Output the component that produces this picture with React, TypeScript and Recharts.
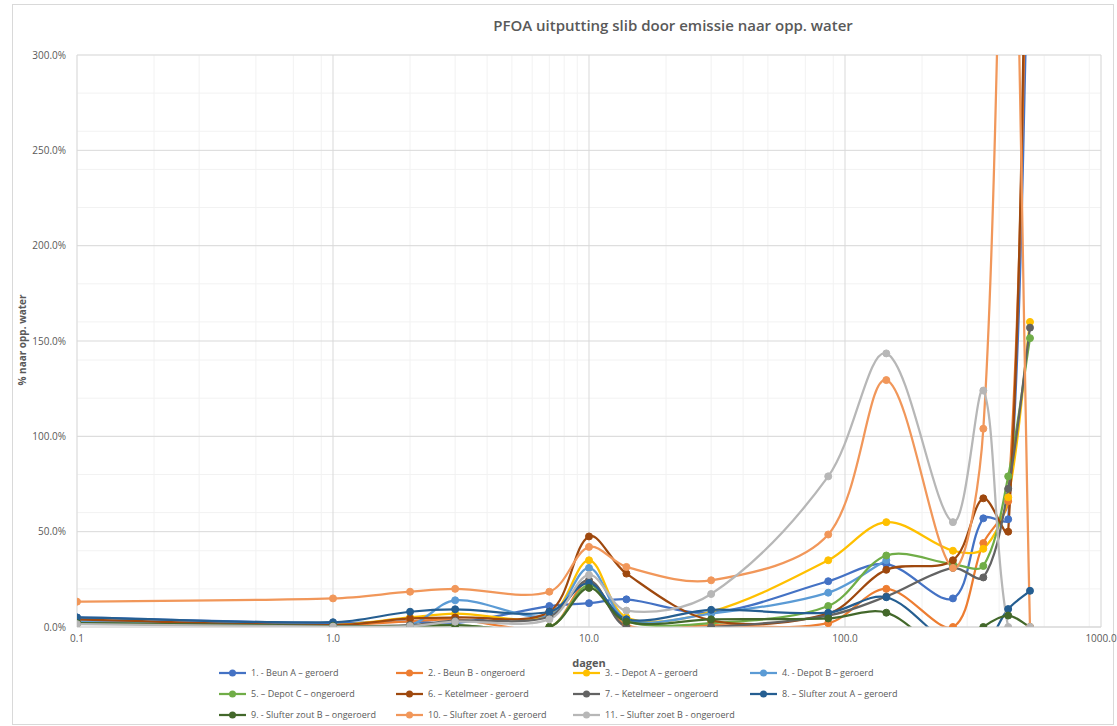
import { CartesianGrid, Line, LineChart, XAxis, YAxis } from "recharts";

// days on the (log) x axis
const days = [0.1, 1, 2, 3, 7, 10, 14, 30, 86, 145, 264, 347, 434, 528];

// % naar opp. water per series
const beunA = [5, 2, 3, 2, 11, 12.5, 14.5, 7.5, 24, 33, 15, 57, 56.5, 390];
const beunB = [3, 1, 3, 4, 0, 24, 1, 1, 2, 20, 0, 44, 66, 430];
const depotA = [2, 1, 5, 7, 6, 35, 5, 8, 35, 55, 40, 41, 68, 160];
const depotB = [3, 1, 1, 14, 6, 31, 4, 7, 18, 35, null, null, null, null];
const depotC = [2, 0.5, 0.5, 1, 0, 22, 3, 2, 11, 37.5, 33, 32, 79, 151.5];
const ketelGer = [4, 1, 4.5, 5, 8, 47.5, 28, 3.5, 7, 30, 35, 67.5, 50, 480];
const ketelOng = [2, 0.5, 1, 3.3, 5.4, 24.5, 0, 0, 6, 16, 31, 26, 72.5, 157];
const zoutA = [5, 2.5, 8, 9.3, 8, 23, 4, 9, 7.5, 15.6, -10, -10, 9.4, 19];
const zoutB = [2, 0.5, 0.5, 1, 0, 20.5, 2.8, 4, 4.5, 7.5, -15, 0, 6, 0];
const zoetA = [13.3, 15, 18.5, 20, 18.5, 42, 31.5, 24.5, 48.5, 129.5, 31, 104, 480, 0];
const zoetB = [1.5, 0.2, 0.5, 2.8, 4, 27.3, 8.6, 17.3, 79, 143.5, 55, 124, 0, 0];

const xTicks = [0.1, 1, 10, 100, 1000];
const xMinorTicks = [0.2, 0.3, 0.4, 0.5, 0.6, 0.7, 0.8, 0.9, 2, 3, 4, 5, 6, 7, 8, 9, 20, 30, 40, 50, 60, 70, 80, 90, 200, 300, 400, 500, 600, 700, 800, 900];
const yTicks = [0, 50, 100, 150, 200, 250, 300];
const yMinorTicks = [0, 10, 20, 30, 40, 50, 60, 70, 80, 90, 100, 110, 120, 130, 140, 150, 160, 170, 180, 190, 200, 210, 220, 230, 240, 250, 260, 270, 280, 290, 300];

const series = [
  { key: "s1", name: "1. - Beun A – geroerd", color: "#4472C4", values: beunA },
  { key: "s2", name: "2. - Beun B - ongeroerd", color: "#ED7D31", values: beunB },
  { key: "s3", name: "3. – Depot A – geroerd", color: "#FFC000", values: depotA },
  { key: "s4", name: "4. - Depot B – geroerd", color: "#5B9BD5", values: depotB },
  { key: "s5", name: "5. – Depot C – ongeroerd", color: "#70AD47", values: depotC },
  { key: "s6", name: "6. – Ketelmeer - geroerd", color: "#9E480E", values: ketelGer },
  { key: "s7", name: "7. – Ketelmeer – ongeroerd", color: "#636363", values: ketelOng },
  { key: "s8", name: "8. – Slufter zout A – geroerd", color: "#255E91", values: zoutA },
  { key: "s9", name: "9. - Slufter zout B – ongeroerd", color: "#43682B", values: zoutB },
  { key: "s10", name: "10. – Slufter zoet A - geroerd", color: "#F1975A", values: zoetA },
  { key: "s11", name: "11. – Slufter zoet B - ongeroerd", color: "#B7B7B7", values: zoetB },
];

const table = days.map((day, i) => {
  const row: Record<string, number | null> = { day };
  series.forEach((s) => (row[s.key] = s.values[i]));
  return row;
});

// Excel-like smoothed line: bezier arms scaled by neighbouring segment lengths
function smoothCurve(ctx: any) {
  let pts: number[][] = [];
  const arms = (prev: number[], cur: number[], next: number[]) => {
    const dPrev = Math.hypot(cur[0] - prev[0], cur[1] - prev[1]);
    const dNext = Math.hypot(next[0] - cur[0], next[1] - cur[1]);
    const s = dPrev + dNext || 1;
    const tx = next[0] - prev[0];
    const ty = next[1] - prev[1];
    return {
      inX: (tx * dPrev) / s / 3,
      inY: (ty * dPrev) / s / 3,
      outX: (tx * dNext) / s / 3,
      outY: (ty * dNext) / s / 3,
    };
  };
  return {
    areaStart() {},
    areaEnd() {},
    lineStart() {
      pts = [];
    },
    point(x: number, y: number) {
      pts.push([+x, +y]);
    },
    lineEnd() {
      const n = pts.length;
      if (!n) return;
      ctx.moveTo(pts[0][0], pts[0][1]);
      for (let i = 0; i < n - 1; i++) {
        const p0 = pts[i - 1] || pts[i];
        const p1 = pts[i];
        const p2 = pts[i + 1];
        const p3 = pts[i + 2] || pts[i + 1];
        const a = arms(p0, p1, p2);
        const b = arms(p1, p2, p3);
        ctx.bezierCurveTo(p1[0] + a.outX, p1[1] + a.outY, p2[0] - b.inX, p2[1] - b.inY, p2[0], p2[1]);
      }
    },
  };
}

const tickStyle = { fontSize: 10, fill: "#595959" };

export default function App() {
  return (
    <div
      style={{
        position: "absolute",
        left: 0,
        top: 0,
        width: 1117,
        height: 726,
        background: "#fff",
        fontFamily: "'Open Sans', sans-serif",
        color: "#595959",
      }}
    >
      <div style={{ position: "absolute", left: 12, top: 4, width: 1100, height: 719, border: "1px solid #D9D9D9" }} />
      <div
        style={{
          position: "absolute",
          left: 373,
          width: 600,
          top: 15,
          textAlign: "center",
          fontSize: 15,
          fontWeight: 600,
        }}
      >
        PFOA uitputting slib door emissie naar opp. water
      </div>
      <LineChart width={1117} height={726} data={table} margin={{ top: 55, right: 16, bottom: 0, left: 0 }}>
        <XAxis xAxisId="minor" dataKey="day" type="number" scale="log" domain={[0.1, 1000]} ticks={xMinorTicks} hide />
        <YAxis yAxisId="minor" type="number" domain={[0, 300]} ticks={yMinorTicks} allowDataOverflow hide />
        <CartesianGrid xAxisId="minor" yAxisId="minor" stroke="#F2F2F2" strokeWidth={1} />
        <CartesianGrid stroke="#D9D9D9" strokeWidth={1} />
        <XAxis
          dataKey="day"
          type="number"
          scale="log"
          domain={[0.1, 1000]}
          ticks={xTicks}
          tickFormatter={(v) => Number(v).toFixed(1)}
          axisLine={{ stroke: "#D9D9D9" }}
          tickLine={false}
          tick={tickStyle}
          height={99}
          allowDataOverflow
        />
        <YAxis
          type="number"
          domain={[0, 300]}
          ticks={yTicks}
          tickFormatter={(v) => `${Number(v).toFixed(1)}%`}
          axisLine={false}
          tickLine={false}
          tick={tickStyle}
          tickMargin={5}
          width={77}
          allowDataOverflow
        />
        {series.map((s) => (
          <Line
            key={s.key}
            dataKey={s.key}
            name={s.name}
            type={smoothCurve as any}
            stroke={s.color}
            strokeWidth={2.25}
            dot={{ r: 3.5, fill: s.color, stroke: s.color, strokeWidth: 1 }}
            activeDot={false}
            isAnimationActive={false}
          />
        ))}
      </LineChart>
      <div
        style={{
          position: "absolute",
          left: 14,
          top: 340,
          transform: "translate(-50%, -50%) rotate(-90deg)",
          fontSize: 10,
          fontWeight: 700,
          whiteSpace: "nowrap",
          marginLeft: 8,
        }}
      >
        % naar opp. water
      </div>
      <div
        style={{
          position: "absolute",
          left: 589,
          top: 662,
          transform: "translate(-50%, -50%)",
          fontSize: 11,
          fontWeight: 700,
        }}
      >
        dagen
      </div>
      <div style={{ position: "absolute", left: 218, top: 662, width: 720, display: "flex", flexWrap: "wrap" }}>
        {series.map((s) => (
          <div key={s.key} style={{ width: 177, height: 21, display: "flex", alignItems: "center", fontSize: 9, whiteSpace: "nowrap" }}>
            <svg width={30} height={10} style={{ marginRight: 3, flex: "none" }}>
              <line x1={1} y1={5} x2={28} y2={5} stroke={s.color} strokeWidth={2.25} />
              <circle cx={14.5} cy={5} r={3.5} fill={s.color} />
            </svg>
            <span>{s.name}</span>
          </div>
        ))}
      </div>
    </div>
  );
}
